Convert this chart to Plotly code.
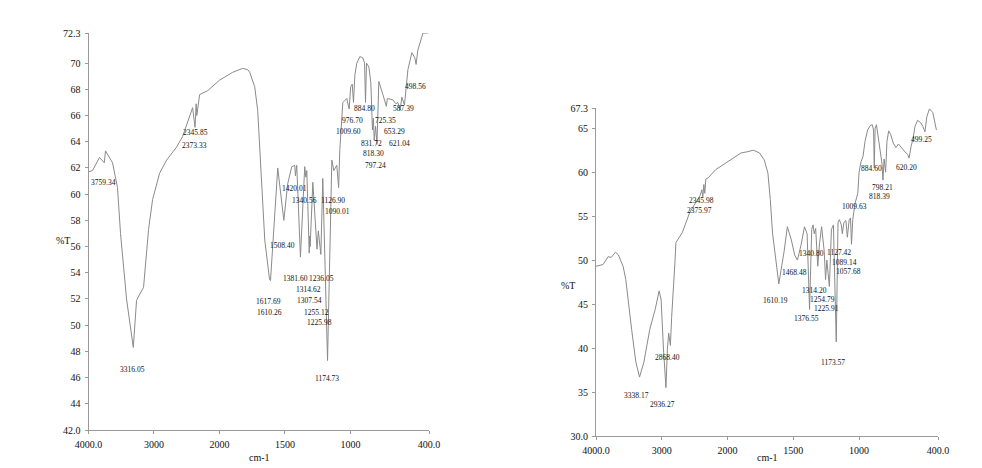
import plotly.graph_objects as go

# ---- Spectrum A (left panel) ----
wn_a = [4000, 3939, 3832, 3759.34, 3740, 3633, 3557, 3511, 3419, 3316.05, 3266, 3159,
        3083, 3021, 2914, 2807, 2654, 2563, 2410, 2373.33, 2356, 2345.85, 2303, 2180,
        1999, 1899, 1823, 1784, 1769, 1731, 1708, 1654, 1617.69, 1610.26, 1555, 1508.40,
        1479, 1448, 1425, 1420.01, 1410, 1381.60, 1349, 1340.56, 1333, 1314.62, 1311,
        1307.54, 1287, 1255.12, 1245, 1236.05, 1225.98, 1211, 1174.73, 1142, 1126.90,
        1104, 1090.01, 1081, 1058, 1028, 1009.60, 998, 986, 976.70, 966, 951, 928, 905,
        892, 884.80, 877, 859, 844, 831.72, 825, 818.30, 808, 797.24, 783, 752, 725.35,
        718, 676, 653.29, 638, 621.04, 607, 587.39, 576, 561, 531, 508, 498.56, 485,
        446, 405]
t_a = [61.7, 61.8, 62.8, 62.4, 63.3, 62.4, 60.5, 57.0, 52.0, 48.3, 51.9, 52.9,
       57.3, 59.6, 61.6, 62.6, 63.6, 64.4, 66.6, 65.1, 66.9, 66.0, 67.6, 67.9,
       68.7, 69.3, 69.6, 69.5, 69.3, 68.2, 66.4, 56.5, 53.5, 53.4, 62.0, 58.0,
       60.8, 62.1, 62.2, 61.4, 62.2, 55.2, 62.1, 61.3, 61.8, 55.5, 56.8,
       56.0, 60.9, 55.8, 57.2, 56.5, 55.4, 61.2, 47.3, 62.6, 61.8,
       62.2, 60.5, 63.4, 67.0, 67.3, 66.5, 68.2, 68.4, 67.0, 69.1, 70.0, 70.5, 70.4,
       70.0, 67.0, 70.0, 69.7, 68.5, 64.9, 65.8, 64.1, 65.2, 63.8, 68.6, 67.6, 66.7,
       67.3, 67.2, 66.9, 67.0, 66.4, 67.4, 66.8, 68.2, 69.5, 70.8, 70.4, 69.9, 71.0,
       72.3, 72.3]

peaks_a = [3759.34, 3316.05, 2345.85, 2373.33, 1508.40, 1617.69, 1610.26, 1420.01,
           1340.56, 1126.90, 1090.01, 1381.60, 1236.05, 1314.62, 1307.54, 1255.12,
           1225.98, 1174.73, 1009.60, 976.70, 884.80, 831.72, 818.30, 797.24, 725.35,
           653.29, 621.04, 587.39, 498.56]
# vertical placement of each peak label (%T)
label_y_a = [60.9, 46.6, 64.7, 63.75, 56.1, 51.8, 51.0, 60.4,
             59.55, 59.55, 58.7, 53.6, 53.6, 52.7, 51.85, 51.0,
             50.2, 45.9, 64.75, 65.6, 66.5, 63.9, 63.1, 62.2, 65.6,
             64.75, 63.9, 66.5, 68.2]
# horizontal nudges (px) where neighbouring labels crowd each other
label_dx_a = {1381.60: -4, 1236.05: 3}

# ---- Spectrum B (right panel) ----
wn_b = [4000, 3893, 3814, 3768, 3705, 3660, 3588, 3547, 3458, 3394, 3338.17, 3272,
        3183, 3100, 3040, 3010, 2975, 2936.27, 2915, 2895, 2868.40, 2850, 2800, 2785,
        2690, 2576, 2495, 2420, 2390, 2375.97, 2360, 2345.98, 2330, 2289, 2179, 2024,
        1950, 1896, 1857, 1804, 1758, 1721, 1693, 1675, 1658, 1632, 1610.19, 1570,
        1545, 1515, 1490, 1468.48, 1440, 1415, 1395, 1376.55, 1360, 1350, 1340.80,
        1330, 1314.20, 1300, 1285, 1265, 1254.79, 1245, 1225.91, 1210, 1195, 1173.57,
        1160, 1150, 1135, 1127.42, 1115, 1100, 1089.14, 1075, 1065, 1057.68, 1048,
        1030, 1009.63, 1000, 985, 970, 955, 935, 915, 900, 890, 884.60, 878, 868, 855,
        840, 826, 818.39, 810, 798.21, 788, 775, 760, 740, 720, 700, 680, 650, 630,
        620.20, 605, 590, 575, 555, 530, 515, 499.25, 485, 465, 440, 412]
t_b = [49.3, 49.5, 50.4, 50.3, 50.9, 50.6, 49.3, 47.8, 42.1, 38.4, 36.7, 38.4,
       42.1, 44.4, 46.5, 45.5, 40.0, 35.5, 39.8, 41.7, 40.3, 43.5, 49.7, 52.0,
       53.1, 55.4, 56.4, 57.3, 58.0, 57.2, 58.6, 57.6, 59.2, 59.4, 60.3, 61.1,
       61.7, 62.2, 62.3, 62.5, 62.2, 61.4, 59.9, 56.9, 53.1, 50.1, 47.3, 51.0,
       53.8, 52.3, 50.6, 50.0, 51.8, 53.8, 53.0, 44.4, 53.5, 54.0, 53.0,
       53.6, 49.3, 52.0, 53.8, 51.0, 47.8, 50.0, 47.0, 53.5, 54.0, 40.7,
       54.3, 54.6, 54.0, 53.0, 54.3, 54.5, 52.6, 54.6, 54.8, 51.8, 54.6,
       56.5, 57.6, 60.0, 61.2, 61.8, 63.5, 64.8, 65.3, 65.4, 64.8, 60.5, 65.0, 65.4, 64.0,
       62.3, 61.0, 59.1, 61.5, 60.0, 63.5, 64.7, 64.3, 63.3, 62.8, 63.2, 62.8, 62.3, 62.0,
       61.6, 62.9, 63.8, 65.2, 65.9, 65.6, 65.2, 64.6, 66.3, 67.2, 66.8, 64.8]

peaks_b = [2345.98, 2375.97, 3338.17, 2936.27, 2868.40, 1610.19, 1468.48, 1340.80,
           1127.42, 1089.14, 1057.68, 1314.20, 1254.79, 1225.91, 1376.55, 1173.57,
           1009.63, 884.60, 798.21, 818.39, 620.20, 499.25]
label_y_b = [56.75, 55.7, 34.65, 33.6, 38.95, 45.4, 48.6, 50.75,
             50.85, 49.7, 48.7, 46.55, 45.5, 44.5, 43.4, 38.4,
             56.1, 60.4, 58.3, 57.2, 60.5, 63.7]

x_ticks = [4000, 3000, 2000, 1500, 1000, 400]
x_tick_text = ["4000.0", "3000", "2000", "1500", "1000", "400.0"]
y_ticks_a = [42.0, 44, 46, 48, 50, 52, 54, 56, 58, 60, 62, 64, 66, 68, 70, 72.3]
y_text_a = ["42.0", "44", "46", "48", "50", "52", "54", "56", "58", "60", "62", "64",
            "66", "68", "70", "72.3"]
y_ticks_b = [30.0, 35, 40, 45, 50, 55, 60, 65, 67.3]
y_text_b = ["30.0", "35", "40", "45", "50", "55", "60", "65", "67.3"]


def to_u(wn):
    """Spectrometer abscissa: 4000-2000 cm-1 at half the scale of 2000-400 cm-1."""
    return [(4000 - w) if w >= 2000 else 2000 + 2 * (2000 - w) for w in wn]


W, H = 982, 468
SERIF = "Liberation Serif, Times New Roman, serif"
INK = "#111111"
LINE = "#8a8a8a"
AXIS = "#9a9a9a"

fig = go.Figure()
fig.add_trace(go.Scatter(x=to_u(wn_a), y=t_a, mode="lines",
                         line=dict(color=LINE, width=1), xaxis="x", yaxis="y",
                         hoverinfo="skip"))
fig.add_trace(go.Scatter(x=to_u(wn_b), y=t_b, mode="lines",
                         line=dict(color=LINE, width=1), xaxis="x2", yaxis="y2",
                         hoverinfo="skip"))

annotations = []
for wn, ly in zip(peaks_a, label_y_a):
    annotations.append(dict(x=to_u([wn])[0], y=ly, xref="x", yref="y", text=f"{wn:.2f}",
                            showarrow=False, xanchor="center", yanchor="middle",
                            xshift=-1 + label_dx_a.get(wn, 0),
                            font=dict(family=SERIF, size=7.5, color=INK)))
for wn, ly in zip(peaks_b, label_y_b):
    annotations.append(dict(x=to_u([wn])[0], y=ly, xref="x2", yref="y2", text=f"{wn:.2f}",
                            showarrow=False, xanchor="center", yanchor="middle", xshift=-3,
                            font=dict(family=SERIF, size=7.5, color=INK)))

for txt, px, py in [("%T", 63, 241), ("%T", 568, 285), ("cm-1", 259, 457), ("cm-1", 767, 457)]:
    annotations.append(dict(x=px / W, y=1 - py / H, xref="paper", yref="paper", text=txt,
                            showarrow=False, xanchor="center", yanchor="middle",
                            font=dict(family=SERIF, size=10, color=INK)))

xcommon = dict(range=[0, 5200], tickvals=to_u(x_ticks), ticktext=x_tick_text,
               showline=True, linecolor=AXIS, linewidth=1, ticks="outside", ticklen=3,
               tickcolor=AXIS, showgrid=False, zeroline=False, ticklabelstandoff=2,
               automargin=False, tickfont=dict(family=SERIF, size=10, color=INK))
ycommon = dict(showline=True, linecolor=AXIS, linewidth=1, ticks="outside", ticklen=3,
               tickcolor=AXIS, showgrid=False, zeroline=False, ticklabelstandoff=2,
               automargin=False, tickfont=dict(family=SERIF, size=10, color=INK))

fig.update_layout(
    width=W, height=H, margin=dict(l=0, r=0, t=0, b=0, pad=0), autosize=False,
    paper_bgcolor="white", plot_bgcolor="white", showlegend=False,
    xaxis=dict(domain=[88.5 / W, 429 / W], anchor="y", **xcommon),
    yaxis=dict(domain=[1 - 430 / H, 1 - 33 / H], anchor="x", range=[42.0, 72.3],
               tickvals=y_ticks_a, ticktext=y_text_a, **ycommon),
    xaxis2=dict(domain=[596 / W, 938 / W], anchor="y2", **xcommon),
    yaxis2=dict(domain=[1 - 436 / H, 1 - 108 / H], anchor="x2", range=[30.0, 67.3],
                tickvals=y_ticks_b, ticktext=y_text_b, **ycommon),
    annotations=annotations,
)

fig.write_html("out.html")
